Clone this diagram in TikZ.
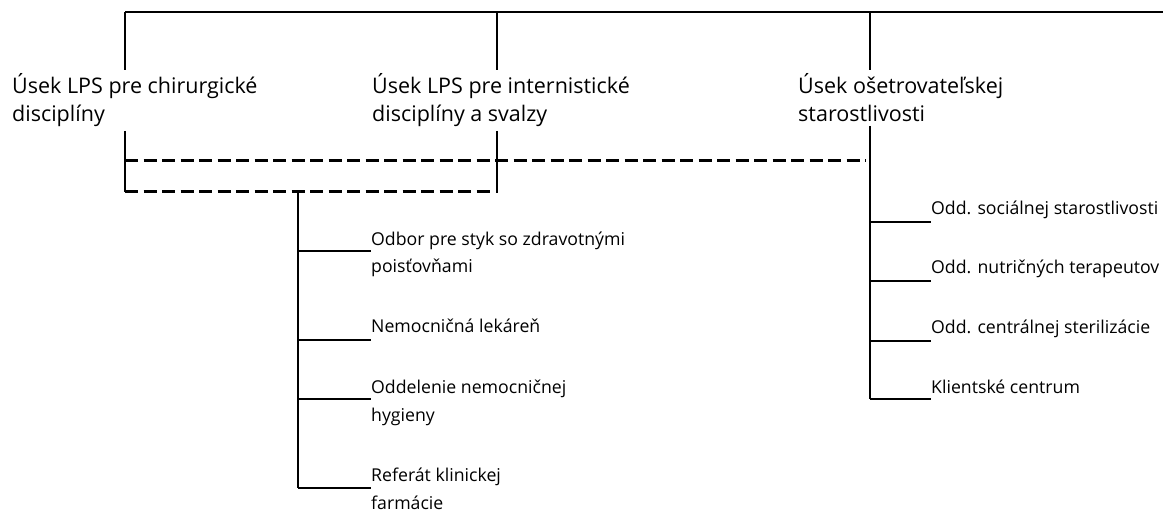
\documentclass[tikz,border=0pt]{standalone}
\usepackage{fontspec}
\setmainfont{Open Sans}
\begin{document}
\begin{tikzpicture}[x=1pt,y=-1pt,
  big/.style={font=\fontsize{21.5}{28.3}\selectfont, align=left, inner xsep=0pt, inner ysep=3.5pt, anchor=base west},
  small/.style={font=\fontsize{17.7}{28}\selectfont, align=left, inner sep=0pt, anchor=base west},
  conn/.style={line width=1.2pt},
  dashline/.style={line width=3pt, dash pattern=on 13pt off 5.5pt}]
\useasboundingbox (0,0) rectangle (1163,513);
% top level nodes (anchor = baseline of last line)
\node[big] (s1) at (12,122) {Úsek LPS pre chirurgické\\disciplíny};
\node[big] (s2) at (372,122) {Úsek LPS pre internistické\\disciplíny a svalzy};
\node[big] (s3) at (798,122) {Úsek ošetrovateľskej\\starostlivosti};
% sub nodes
\node[small] (l1) at (371,273) {Odbor pre styk so zdravotnými\\poisťovňami};
\node[small] (l2) at (371,333) {Nemocničná lekáreň};
\node[small] (l3) at (371,421) {Oddelenie nemocničnej\\hygieny};
\node[small] (l4) at (371,509) {Referát klinickej\\farmácie};
\node[small] (r1) at (931,215) {Odd. sociálnej starostlivosti};
\node[small] (r2) at (931,274) {Odd. nutričných terapeutov};
\node[small] (r3) at (931,334) {Odd. centrálnej sterilizácie};
\node[small] (r4) at (931,393) {Klientské centrum};
% coordinates
\coordinate (t1) at (125,12);
\coordinate (t2) at (497,12);
\coordinate (t3) at (870,12);
\coordinate (te) at (1163,12);
\coordinate (a1) at (125,161);
\coordinate (a3) at (866,161);
\coordinate (b1) at (125,192);
\coordinate (b2) at (497,193);
\coordinate (b2e) at (493,192);
\coordinate (m0) at (298,192);
\coordinate (m1) at (298,251);
\coordinate (m2) at (298,340);
\coordinate (m3) at (298,399);
\coordinate (m4) at (298,488);
\coordinate (n1) at (870,222);
\coordinate (n2) at (870,281);
\coordinate (n3) at (870,341);
\coordinate (n4) at (870,399);
% connectors
\draw[conn] (t1) -- (te);
\draw[conn] (t1) -- (t1 |- s1.north);
\draw[conn] (t2) -- (t2 |- s2.north);
\draw[conn] (t3) -- (t3 |- s3.north);
\draw[conn] (t1 |- s1.south) -- (b1);
\draw[conn] (t2 |- s2.south) -- (b2);
\draw[conn] (t3 |- s3.south) -- (n4);
\draw[dashline] (a1) -- (a3);
\draw[dashline] (b1) -- (b2e);
\draw[conn] (m0) -- (m4);
\draw[conn] (m1) -- (m1 -| l1.west);
\draw[conn] (m2) -- (m2 -| l2.west);
\draw[conn] (m3) -- (m3 -| l3.west);
\draw[conn] (m4) -- (m4 -| l4.west);
\draw[conn] (n1) -- (n1 -| r1.west);
\draw[conn] (n2) -- (n2 -| r2.west);
\draw[conn] (n3) -- (n3 -| r3.west);
\draw[conn] (n4) -- (n4 -| r4.west);
\end{tikzpicture}
\end{document}
